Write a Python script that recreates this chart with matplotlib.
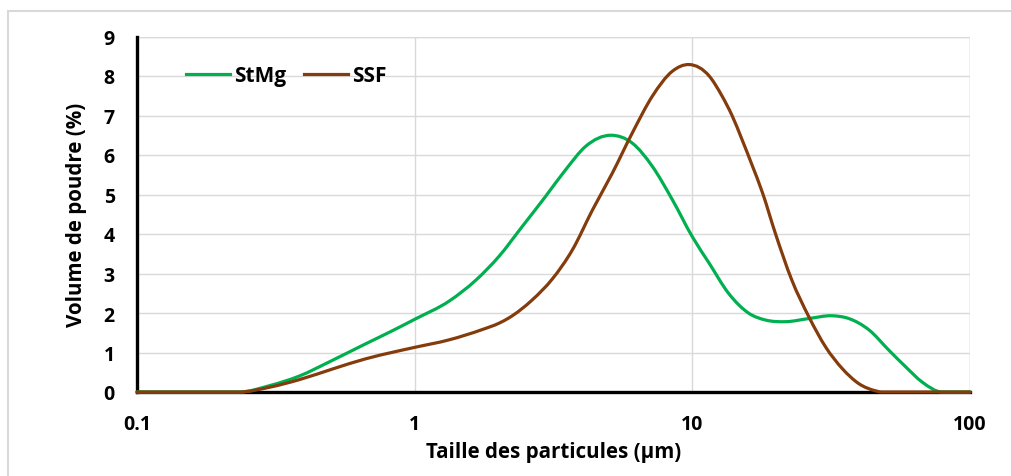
import matplotlib
matplotlib.use("Agg")
import numpy as np
import matplotlib.pyplot as plt
from matplotlib.lines import Line2D
from matplotlib.path import Path
from matplotlib.patches import PathPatch

# Data
stmg_x = [0.1, 0.234, 0.3, 0.383, 0.505, 0.666, 0.82, 1.0, 1.33, 1.66, 2.01, 2.44, 2.96, 3.5,
          4.13, 5.08, 6.08, 7.18, 8.47, 10, 11.5, 13.5, 16, 18.4, 21.7, 26.3, 31.9, 36.6, 43.3,
          51, 58.6, 67.3, 79.4, 100]
stmg_y = [0, 0, 0.16, 0.40, 0.80, 1.22, 1.53, 1.84, 2.3, 2.83, 3.43, 4.19, 4.95, 5.63,
          6.22, 6.5, 6.3, 5.71, 4.87, 3.93, 3.26, 2.5, 1.99, 1.82, 1.78, 1.86, 1.93, 1.86, 1.57,
          1.06, 0.64, 0.25, 0, 0]

ssf_x = [0.1, 0.234, 0.3, 0.383, 0.505, 0.666, 0.85, 1.0, 1.33, 1.75, 2.01, 2.19, 2.65, 3.13,
         3.7, 4.37, 5.15, 6.08, 7.18, 8.47, 9.73, 11.5, 12.8, 13.9, 15.1, 16.4, 17.9, 19.9,
         22.8, 26.3, 30.2, 34.7, 39.8, 45.7, 48, 100]
ssf_y = [0, 0, 0.12, 0.31, 0.58, 0.84, 1.02, 1.13, 1.32, 1.58, 1.74, 1.88, 2.33, 2.86,
         3.6, 4.61, 5.54, 6.56, 7.49, 8.12, 8.29, 8.0, 7.49, 7.0, 6.39, 5.75, 5.04, 4.02,
         2.84, 1.90, 1.14, 0.59, 0.21, 0.03, 0, 0]

series_names = ["StMg", "SSF"]
series_colors = ["#00B050", "#843C0C"]
x_ticks = [0.1, 1, 10, 100]
x_tick_labels = ["0.1", "1", "10", "100"]
y_ticks = list(range(0, 10))

plt.rcParams['font.family'] = ['Open Sans', 'DejaVu Sans']


def smooth_path(xs, ys):
    """Smoothed line (cubic Hermite in log10(x), y space) drawn as Bezier path."""
    lx = np.log10(np.asarray(xs, float))
    y = np.asarray(ys, float)
    n = len(lx)
    h = np.diff(lx)
    d = np.diff(y) / h
    m = np.zeros(n)
    m[0] = d[0]
    m[-1] = d[-1]
    for i in range(1, n - 1):
        m[i] = (d[i - 1] * h[i] + d[i] * h[i - 1]) / (h[i - 1] + h[i])
        if y[i] == 0 and (d[i - 1] == 0 or d[i] == 0):
            m[i] = 0.0
    verts = [(xs[0], ys[0])]
    codes = [Path.MOVETO]
    for i in range(n - 1):
        c1x = lx[i] + h[i] / 3
        c1y = max(y[i] + m[i] * h[i] / 3, 0.0)
        c2x = lx[i + 1] - h[i] / 3
        c2y = max(y[i + 1] - m[i + 1] * h[i] / 3, 0.0)
        verts += [(10 ** c1x, c1y), (10 ** c2x, c2y), (xs[i + 1], ys[i + 1])]
        codes += [Path.CURVE4] * 3
    return Path(verts, codes)


W, H = 1011, 477
fig = plt.figure(figsize=(W / 100, H / 100), dpi=100)

# outer chart frame
fig.add_artist(Line2D([8 / W, 1.0], [1 - 12 / H, 1 - 12 / H], color="#d9d9d9", lw=1.5,
                      transform=fig.transFigure))
fig.add_artist(Line2D([8 / W, 8 / W], [0, 1 - 12 / H], color="#d9d9d9", lw=1.5,
                      transform=fig.transFigure))

left, right, bottom, top = 137 / W, 970 / W, 1 - 393 / H, 1 - 37.5 / H
ax = fig.add_axes([left, bottom, right - left, top - bottom])

ax.set_xscale("log")
ax.set_xlim(0.1, 100)
ax.set_ylim(0, 9)

for xs, ys, name, col in [(stmg_x, stmg_y, series_names[0], series_colors[0]),
                          (ssf_x, ssf_y, series_names[1], series_colors[1])]:
    patch = PathPatch(smooth_path(xs, ys), facecolor="none", edgecolor=col, lw=2.3,
                      capstyle="round", joinstyle="round", zorder=3, clip_on=False)
    ax.add_patch(patch)
    ax.plot([], [], color=col, lw=2.3, label=name)

ax.set_xticks(x_ticks)
ax.set_xticklabels(x_tick_labels)
ax.xaxis.set_minor_locator(matplotlib.ticker.NullLocator())
ax.set_yticks(y_ticks)

ax.grid(True, which="major", color="#d9d9d9", lw=1.0)
ax.set_axisbelow(True)

for s in ["top", "right"]:
    ax.spines[s].set_visible(False)
for s in ["left", "bottom"]:
    ax.spines[s].set_linewidth(2.4)
    ax.spines[s].set_color("black")
    ax.spines[s].set_zorder(2)

ax.axhline(9, color="#d9d9d9", lw=1.0, zorder=0)
ax.axvline(100, color="#d9d9d9", lw=1.0, zorder=0)

ax.tick_params(axis="both", length=0, labelsize=14)
ax.tick_params(axis="x", pad=16)
ax.tick_params(axis="y", pad=16)
for lbl in ax.get_xticklabels() + ax.get_yticklabels():
    lbl.set_fontweight("bold")

ax.set_xlabel("Taille des particules (µm)", fontsize=14.8, fontweight="bold", labelpad=5)
ax.set_ylabel("Volume de poudre (%)", fontsize=14.8, fontweight="bold", labelpad=12)

leg = ax.legend(loc="center left", bbox_to_anchor=((186 - 137) / 833, (393 - 77) / 355.5),
                ncol=2, frameon=False, borderpad=0, borderaxespad=0,
                handlelength=2.1, handletextpad=0.2, columnspacing=0.85,
                prop={"size": 15, "weight": "bold"})

fig.savefig("out.png", dpi=100)
